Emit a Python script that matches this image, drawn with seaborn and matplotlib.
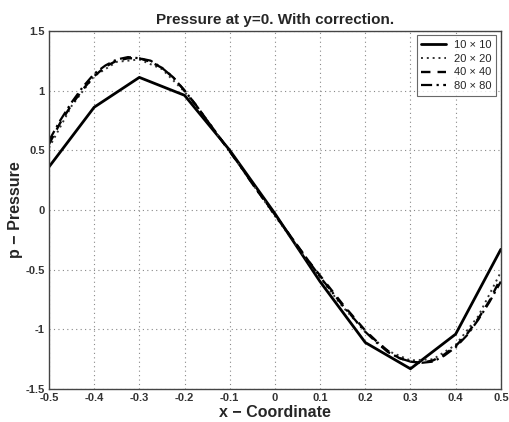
import numpy as np
import pandas as pd
import matplotlib
matplotlib.use("Agg")
import matplotlib.pyplot as plt
import seaborn as sns

# ---- data ----
x10 = [-0.5, -0.4, -0.3, -0.2, -0.1, 0.0, 0.1, 0.2, 0.3, 0.4, 0.5]
p10 = [0.36, 0.86, 1.11, 0.96, 0.50, -0.03, -0.60, -1.11, -1.33, -1.04, -0.33]

x20 = [-0.5, -0.45, -0.4, -0.35, -0.3, -0.25, -0.2, -0.15, -0.1, -0.05, 0.0,
       0.05, 0.1, 0.15, 0.2, 0.25, 0.3, 0.35, 0.4, 0.45, 0.5]
p20 = [0.52, 0.87, 1.12, 1.24, 1.26, 1.18, 0.99, 0.75, 0.49, 0.22, -0.05,
       -0.31, -0.57, -0.81, -1.02, -1.18, -1.26, -1.25, -1.13, -0.89, -0.52]

x40 = [-0.5, -0.475, -0.45, -0.425, -0.4, -0.375, -0.35, -0.325, -0.3, -0.275,
       -0.25, -0.225, -0.2, -0.175, -0.15, -0.125, -0.1, -0.075, -0.05, -0.025,
       0.0, 0.025, 0.05, 0.075, 0.1, 0.125, 0.15, 0.175, 0.2, 0.225,
       0.25, 0.275, 0.3, 0.325, 0.35, 0.375, 0.4, 0.425, 0.45, 0.475, 0.5]
p40 = [0.55, 0.73, 0.88, 1.01, 1.12, 1.20, 1.25, 1.27, 1.27, 1.24,
       1.19, 1.11, 1.00, 0.88, 0.75, 0.62, 0.49, 0.36, 0.22, 0.09,
       -0.04, -0.17, -0.30, -0.43, -0.55, -0.67, -0.79, -0.90, -1.01, -1.10,
       -1.18, -1.24, -1.27, -1.28, -1.26, -1.21, -1.14, -1.04, -0.91, -0.76, -0.57]

x80 = x40
p80 = [0.58, 0.75, 0.90, 1.03, 1.14, 1.21, 1.26, 1.28, 1.27, 1.25,
       1.19, 1.11, 1.00, 0.88, 0.75, 0.62, 0.49, 0.36, 0.22, 0.09,
       -0.04, -0.17, -0.30, -0.43, -0.56, -0.68, -0.80, -0.91, -1.02, -1.11,
       -1.19, -1.24, -1.27, -1.28, -1.27, -1.22, -1.15, -1.05, -0.92, -0.77, -0.60]

labels = ["10 \u00d7 10", "20 \u00d7 20", "40 \u00d7 40", "80 \u00d7 80"]

xticks = [-0.5, -0.4, -0.3, -0.2, -0.1, 0, 0.1, 0.2, 0.3, 0.4, 0.5]
xticklabels = ["-0.5", "-0.4", "-0.3", "-0.2", "-0.1", "0", "0.1", "0.2", "0.3", "0.4", "0.5"]
yticks = [-1.5, -1, -0.5, 0, 0.5, 1, 1.5]
yticklabels = ["-1.5", "-1", "-0.5", "0", "0.5", "1", "1.5"]

# ---- plot ----
sns.set_style("white")
plt.rcParams['font.family'] = ['Liberation Sans', 'DejaVu Sans']

fig = plt.figure(figsize=(5.10, 4.22), dpi=100)
ax = fig.add_axes([0.096, 0.078, 0.886, 0.849])

styles = [
    dict(color="black", lw=2.0, ls="-"),
    dict(color="#333333", lw=1.4, ls=(0, (1, 2))),
    dict(color="black", lw=1.7, ls=(0, (4, 3))),
    dict(color="black", lw=1.6, ls=(0, (5, 2, 1, 2))),
]
series = [(x10, p10), (x20, p20), (x40, p40), (x80, p80)]
for (xs, ps), lab, st in zip(series, labels, styles):
    df = pd.DataFrame({"x": xs, "p": ps})
    sns.lineplot(data=df, x="x", y="p", ax=ax, label=lab, **st)

ax.set_xlim(-0.5, 0.5)
ax.set_ylim(-1.5, 1.5)
ax.set_xticks(xticks)
ax.set_xticklabels(xticklabels, fontweight="bold")
ax.set_yticks(yticks)
ax.set_yticklabels(yticklabels, fontweight="bold")
ax.tick_params(direction="in", length=4, width=0.8, labelsize=8, pad=3,
               colors="#333333")
ax.grid(True, ls=(0, (1, 3)), color="#888888", lw=0.8)
for s in ax.spines.values():
    s.set_color("#444444")
    s.set_linewidth(1.0)

ax.set_title("Pressure at y=0. With correction.", fontsize=11, fontweight="bold", pad=5)
ax.set_xlabel("x \u2212 Coordinate", fontsize=11.5, fontweight="bold", labelpad=1)
ax.set_ylabel("p \u2212 Pressure", fontsize=11.5, fontweight="bold", labelpad=2)

leg = ax.legend(loc="upper right", fontsize=8, frameon=True, fancybox=False,
                edgecolor="#444444", handlelength=2.2, borderaxespad=0.4,
                labelspacing=0.35, handletextpad=0.8)
leg.get_frame().set_linewidth(0.8)

fig.savefig("out.png", dpi=100)
